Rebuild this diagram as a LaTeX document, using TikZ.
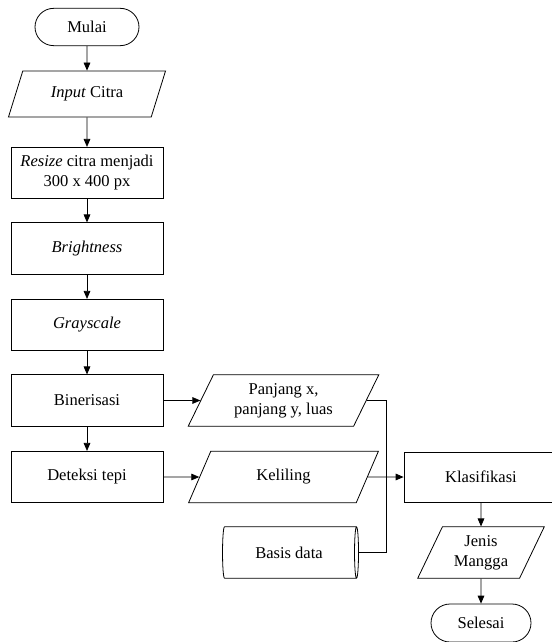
\documentclass[tikz,border=0pt]{standalone}
\usepackage{fontspec}
\setmainfont{Liberation Serif}
\usetikzlibrary{positioning,arrows.meta,shapes.geometric,shapes.misc}

\begin{document}
\begin{tikzpicture}[x=0.75pt, y=-0.75pt, line width=0.6pt,
    every node/.style={font=\fontsize{12.4}{15}\selectfont, align=center},
    terminal/.style={draw, rounded rectangle, minimum width=#1, minimum height=28pt, inner sep=1pt},
    proses/.style={draw, rectangle, minimum width=#1, minimum height=38.5pt, inner sep=1pt},
    io/.style={draw, trapezium, trapezium left angle=64, trapezium right angle=116,
      trapezium stretches=true, minimum width=#1, minimum height=38.5pt, inner sep=1pt},
    basis/.style={draw, cylinder, aspect=0.28, minimum height=102pt, minimum width=38.5pt, inner sep=1pt},
    panah/.style={-{Triangle[length=6pt,width=5pt]}}]
  \clip (0,0) rectangle (552,642);
  % kolom kiri
  \node[terminal=80pt] (mulai) at (87,27) {Mulai};
  \node[io=118pt, minimum height=34.5pt] (input) at (87,94) {\textit{Input} Citra};
  \node[proses=114pt] (resize) at (87,173) {\textit{Resize} citra menjadi\\300 x 400 px};
  \node[proses=114pt] (bright) at (87,248.5) {\textit{Brightness}};
  \node[proses=114pt] (gray) at (87,325) {\textit{Grayscale}};
  \node[proses=114pt] (biner) at (87,400.5) {Binerisasi};
  \node[proses=114pt] (tepi) at (87,477) {Deteksi tepi};
  % fitur
  \node[io=143pt] (panjang) at (283.5,400.5) {Panjang x,\\panjang y, luas};
  \node[io=143pt] (keliling) at (283.5,477) {Keliling};
  \node[basis] (db) at (289,552.5) {Basis data};
  \coordinate (jn) at (386.5,477);
  % kolom kanan
  \node[proses=115.5pt, minimum height=37.5pt] (klas) at (481,477) {Klasifikasi};
  \node[io=95pt] (jenis) at (481,552.5) {Jenis\\Mangga};
  \node[terminal=77pt, minimum height=28.5pt] (selesai) at (481,623) {Selesai};

  \draw[panah] (mulai) -- (input);
  \draw[panah] (input) -- (resize);
  \draw[panah] (resize) -- (bright);
  \draw[panah] (bright) -- (gray);
  \draw[panah] (gray) -- (biner);
  \draw[panah] (biner) -- (tepi);
  \draw[panah] (biner) -- (panjang);
  \draw[panah] (tepi) -- (keliling);
  \draw (panjang.east) -| (jn);
  \draw (db.east) -| (jn);
  \draw[panah] (keliling.east) -- (klas.west);
  \draw[panah] (klas) -- (jenis);
  \draw[panah] (jenis) -- (selesai);
\end{tikzpicture}
\end{document}
